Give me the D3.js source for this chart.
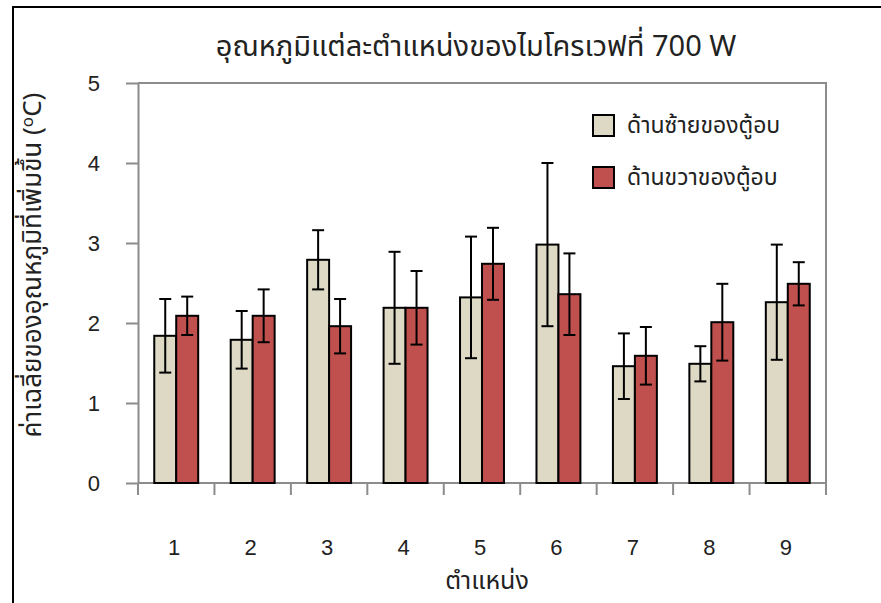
<!DOCTYPE html>
<html>
<head>
<meta charset="utf-8">
<script src="https://cdn.jsdelivr.net/npm/d3@7"></script>
<style>
  html, body { margin: 0; padding: 0; background: #fff; }
  svg { display: block; }
  .num { font-family: "Liberation Sans Narrow", "Liberation Sans", Arial, sans-serif; }
  .thai { font-family: "Noto Sans Thai", "Loma", "Garuda", "Tlwg Typo", "Liberation Sans", sans-serif; }
</style>
</head>
<body>
<script>
// Measured temperature increase (°C) at each position in the oven, 700 W
const positions = ["1", "2", "3", "4", "5", "6", "7", "8", "9"];
const seriesNames = ["ด้านซ้ายของตู้อบ", "ด้านขวาของตู้อบ"];
const leftMeans  = [1.84, 1.79, 2.79, 2.19, 2.32, 2.98, 1.46, 1.49, 2.26];
const leftErr    = [0.46, 0.36, 0.37, 0.70, 0.76, 1.02, 0.41, 0.22, 0.72];
const rightMeans = [2.09, 2.09, 1.96, 2.19, 2.74, 2.36, 1.59, 2.01, 2.49];
const rightErr   = [0.24, 0.33, 0.34, 0.46, 0.45, 0.51, 0.36, 0.48, 0.27];
const yTicks = [0, 1, 2, 3, 4, 5];
const seriesColors = ["#DDD9C4", "#C0504D"];

const titleText = "อุณหภูมิแต่ละตำแหน่งของไมโครเวฟที่  700 W";
const xTitle = "ตำแหน่ง";
const yTitle = "ค่าเฉลี่ยของอุณหภูมิที่เพิ่มขึ้น (";

const W = 881, H = 603;
const margin = { top: 83, right: 55, bottom: 120, left: 138 };
const innerW = W - margin.left - margin.right;
const innerH = H - margin.top - margin.bottom;

const rows = positions.map((p, i) => ({
  pos: p,
  values: [
    { s: 0, mean: leftMeans[i], err: leftErr[i] },
    { s: 1, mean: rightMeans[i], err: rightErr[i] }
  ]
}));

const svg = d3.select("body").append("svg").attr("width", W).attr("height", H);

// outer frame (top and left edges)
svg.append("path")
  .attr("d", `M13,${H} L13,7 L${W},7`)
  .attr("fill", "none").attr("stroke", "#000").attr("stroke-width", 2);

const g = svg.append("g").attr("transform", `translate(${margin.left},${margin.top})`);

const x = d3.scaleBand().domain(positions).range([0, innerW]).padding(0);
const xs = d3.scaleBand().domain([0, 1]).range([0, x.bandwidth()]).paddingInner(0).paddingOuter(0.74);
const y = d3.scaleLinear().domain([0, 5]).range([innerH, 0]);

const axisColor = "#8c8c8c";

// plot area border (top and right)
g.append("path")
  .attr("d", `M0,${y(5)} L${innerW},${y(5)} L${innerW},${innerH}`)
  .attr("fill", "none").attr("stroke", axisColor).attr("stroke-width", 2);

// y axis
const yAxis = g.append("g")
  .call(d3.axisLeft(y).tickValues(yTicks).tickFormat(d3.format("d")).tickSize(12).tickSizeOuter(0).tickPadding(26));
yAxis.select(".domain").attr("stroke", axisColor).attr("stroke-width", 2);
yAxis.selectAll(".tick line").attr("stroke", axisColor).attr("stroke-width", 2);
yAxis.selectAll(".tick text")
  .attr("class", "num").attr("font-size", 22).attr("fill", "#222");

// x axis: tick marks on category boundaries
const xAxis = g.append("g").attr("transform", `translate(0,${innerH})`);
xAxis.append("line").attr("x1", 0).attr("x2", innerW).attr("y1", 0).attr("y2", 0)
  .attr("stroke", axisColor).attr("stroke-width", 2);
const bounds = positions.map(p => x(p)).concat([x(positions[positions.length - 1]) + x.bandwidth()]);
xAxis.selectAll("line.tk").data(bounds).join("line").attr("class", "tk")
  .attr("x1", d => d).attr("x2", d => d).attr("y1", 0).attr("y2", 12)
  .attr("stroke", axisColor).attr("stroke-width", 2);
xAxis.selectAll("text.cat").data(positions).join("text").attr("class", "cat num")
  .attr("x", d => x(d) + x.bandwidth() / 2 - 2)
  .attr("y", 72)
  .attr("text-anchor", "middle").attr("font-size", 22).attr("fill", "#222")
  .text(d => d);

// bars
const groups = g.selectAll("g.grp").data(rows).join("g").attr("class", "grp")
  .attr("transform", d => `translate(${x(d.pos)},0)`);

groups.selectAll("rect").data(d => d.values).join("rect")
  .attr("x", d => xs(d.s))
  .attr("y", d => y(d.mean))
  .attr("width", xs.bandwidth())
  .attr("height", d => y(0) - y(d.mean))
  .attr("fill", d => seriesColors[d.s])
  .attr("stroke", "#000").attr("stroke-width", 2);

// error bars
const eb = groups.selectAll("g.eb").data(d => d.values).join("g").attr("class", "eb")
  .attr("transform", d => `translate(${xs(d.s) + xs.bandwidth() / 2},0)`);
eb.append("line")
  .attr("x1", 0).attr("x2", 0)
  .attr("y1", d => y(d.mean + d.err)).attr("y2", d => y(d.mean - d.err))
  .attr("stroke", "#000").attr("stroke-width", 2);
eb.append("line")
  .attr("x1", -6).attr("x2", 6)
  .attr("y1", d => y(d.mean + d.err)).attr("y2", d => y(d.mean + d.err))
  .attr("stroke", "#000").attr("stroke-width", 2);
eb.append("line")
  .attr("x1", -6).attr("x2", 6)
  .attr("y1", d => y(d.mean - d.err)).attr("y2", d => y(d.mean - d.err))
  .attr("stroke", "#000").attr("stroke-width", 2);

// legend
const legend = svg.append("g").attr("transform", "translate(593,115)");
const li = legend.selectAll("g").data(seriesNames).join("g")
  .attr("transform", (d, i) => `translate(0,${i * 52})`);
li.append("rect").attr("width", 21).attr("height", 21)
  .attr("fill", (d, i) => seriesColors[i]).attr("stroke", "#000").attr("stroke-width", 2);
li.append("text").attr("class", "thai")
  .attr("x", 34).attr("y", 10).attr("dy", "0.35em")
  .attr("font-size", 23).attr("fill", "#222")
  .text(d => d);

// title
svg.append("text").attr("class", "thai")
  .attr("x", 476).attr("y", 46).attr("dy", "0.35em")
  .attr("text-anchor", "middle").attr("font-size", 29).attr("fill", "#222")
  .text(titleText);

// x axis title
svg.append("text").attr("class", "thai")
  .attr("x", 487).attr("y", 580).attr("dy", "0.35em")
  .attr("text-anchor", "middle").attr("font-size", 25).attr("fill", "#222")
  .text(xTitle);

// y axis title with raised "o"
const yt = svg.append("text").attr("class", "thai")
  .attr("transform", "translate(32,265) rotate(-90)")
  .attr("text-anchor", "middle").attr("dy", "0.35em")
  .attr("font-size", 26).attr("fill", "#222");
yt.append("tspan").text(yTitle);
yt.append("tspan").attr("font-size", 17).attr("dy", "-8").text("o");
yt.append("tspan").attr("dy", "8").text("C)");
</script>
</body>
</html>
